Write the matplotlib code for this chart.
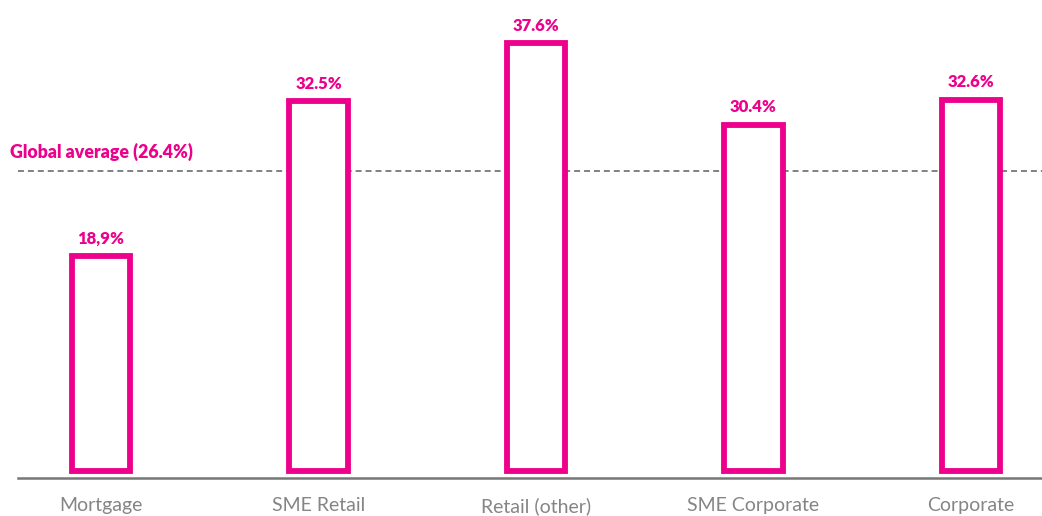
import matplotlib
matplotlib.use("Agg")
import matplotlib.pyplot as plt

PINK = "#EC008C"
GREY = "#777777"

categories = ["Mortgage", "SME Retail", "Retail (other)", "SME Corporate", "Corporate"]
values = [18.9, 32.5, 37.6, 30.4, 32.6]
value_labels = ["18,9%", "32.5%", "37.6%", "30.4%", "32.6%"]
global_avg = 26.4
avg_label = "Global average (26.4%)"

plt.rcParams["font.family"] = ["Lato", "DejaVu Sans"]

fig = plt.figure(figsize=(10.42, 5.16), dpi=100)
ax = fig.add_axes([18 / 1042, (516 - 478) / 516, 1 - 18 / 1042, 478 / 516])

x = list(range(len(categories)))
ax.bar(x, values, width=0.268, facecolor="white", edgecolor=PINK,
       linewidth=4.2, zorder=3)

for xi, v, lab in zip(x, values, value_labels):
    ax.annotate(lab, (xi, v), xytext=(0, 7), textcoords="offset points",
                ha="center", va="bottom", color=PINK, fontsize=12,
                fontweight="heavy", zorder=4)

ax.axhline(global_avg, color=GREY, linestyle=(0, (3.3, 2.2)), linewidth=1.3, zorder=2)
fig.text(10 / 1042, 1 - 152 / 516, avg_label, color=PINK, fontsize=12.8,
         fontweight="heavy", ha="left", va="center")

ax.set_xlim(-0.382, 4.327)
ax.set_ylim(-0.62, 41.4)
ax.set_xticks(x)
ax.set_xticklabels(categories, color="#858585", fontsize=14, fontweight="normal")
ax.tick_params(axis="x", length=0, pad=14)
ax.set_yticks([])
for s in ["top", "right", "left"]:
    ax.spines[s].set_visible(False)
ax.spines["bottom"].set_color(GREY)
ax.spines["bottom"].set_linewidth(1.8)
ax.patch.set_alpha(0)

fig.savefig("out.png", dpi=100)
